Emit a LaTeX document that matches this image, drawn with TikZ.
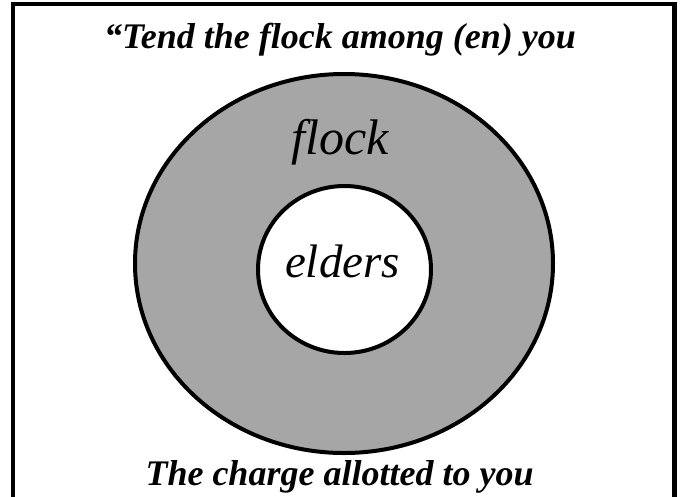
\documentclass[tikz,border=0pt]{standalone}
\usepackage{fontspec}
\setmainfont{Liberation Serif}
\definecolor{ringgray}{HTML}{A6A6A6}
\begin{document}
\begin{tikzpicture}[x=1pt,y=-1pt,
  frame/.style={line width=4.5pt, line join=miter},
  ring/.style={draw=black, line width=4pt},
  title/.style={font=\fontsize{36}{40}\selectfont\bfseries\itshape, anchor=base, inner sep=0pt},
  lbl/.style={font=\fontsize{48}{52}\selectfont\itshape, anchor=base, inner sep=0pt}]
\useasboundingbox (0,0) rectangle (680,496);
\fill[white] (0,0) rectangle (680,496);
\draw[frame] (13,500) -- (13,4) -- (674.5,4) -- (674.5,500);
\path[ring, fill=ringgray] (344,263.5) ellipse [x radius=209, y radius=189.5];
\path[ring, fill=white] (344.5,269.5) ellipse [x radius=86.5, y radius=83.5];
\node[title] (top) at (340,48) {“Tend the flock among (en) you};
\node[lbl, font=\fontsize{50}{54}\selectfont\itshape] (flock) at (340.5,154) {flock};
\node[lbl, font=\fontsize{47}{52}\selectfont\itshape] (elders) at (342.5,277) {elders};
\node[title] (bottom) at (339.5,485) {The charge allotted to you};
\end{tikzpicture}
\end{document}
